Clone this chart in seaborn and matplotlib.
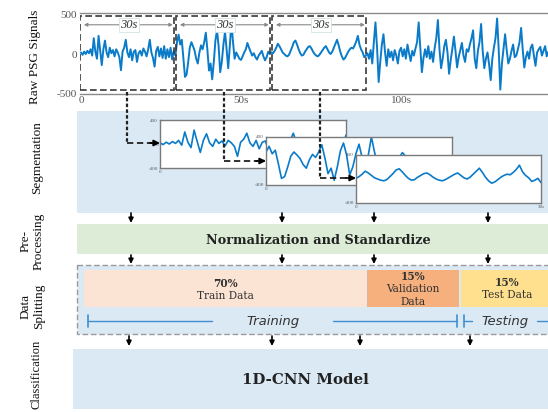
import numpy as np
import pandas as pd
import matplotlib
matplotlib.use('Agg')
import matplotlib.pyplot as plt
import seaborn as sns
from matplotlib.patches import Rectangle

sns.set_theme(style='white')
plt.rcParams['font.family'] = ['Liberation Serif', 'DejaVu Serif']

# ---------------- data ----------------
DT = 0.5  # seconds per sample
seg1_vals = [20, -10, 30, 0, 40, 10, 60, -20, 200, 30, -60, 230, 40, -140, 60, 170,
             20, -40, 80, 10, 50, -30, 60, 20, -40, -205, 30, 80, 180, 20, -40, 60,
             -80, 30, 50, -100, 10, 40, -20, 70, 30, -30, 60, 180, 20, -50, -160, 40,
             90, -30, 70, -50, 100, -60, 60, -40, 80, -70, 40, -20]
seg2_vals = [150, 245, 120, 180, -50, -290, -260, -100, 80, 150, 100, 40, -60, -120, 20, 110,
             60, 150, 270, 50, -210, -120, -320, -100, 170, 300, 100, -230, -100, 120, 280, 60,
             -180, 100, 400, 150, -60, 20, -20, -60, -75, -30, 20, 60, 140, 80, 30, -20,
             10, -40, -70, -20, 10, 40, -30, -80, -40, 30, 0, 20]
seg3_vals = [10, 40, 80, 130, 100, 60, 20, 0, -20, -30, -10, 40, 90, 150, 170, 120,
             60, 10, -20, -10, 30, 60, 90, 100, 70, 30, 0, -20, -30, -10, 20, 50,
             80, 100, 60, 20, 0, 30, 80, 130, 180, 110, 30, -30, -70, -50, -10, 30,
             60, 80, 70, 110, 160, 230, 120, 60, 20, -40, -20, 10]
rest_vals = [-60, 50, -120, 150, 400, 80, -355, -100, 120, 250, 20, -150, 60, -40, 30, -80,
             50, -20, -120, 40, 80, -30, 60, -60, 120, 10, -90, 40, -20, 70, 150, 400,
             80, -230, -50, 60, -40, 100, -60, 30, -100, 80, 200, 430, 60, -180, -60, 100,
             180, 20, -250, -80, 60, 220, 40, -170, -40, 50, 140, -20, -100, 60, 30, 120,
             200, 300, -60, -180, 40, 150, 380, 40, -180, -60, 20, -130, -330, -60, 80, 200,
             450, 60, -450, -120, 60, 250, 50, -120, -60, 40, 120, -40, -20, 60, 150, 330,
             60, -170, -40, 30, -60, 80, 120, -20, -150, 20, 60, 90, -20, 40, 100, -30, 30]

signal = np.array(seg1_vals + seg2_vals + seg3_vals + rest_vals, dtype=float)
time_s = np.arange(len(signal)) * DT
df = pd.DataFrame({'t': time_s, 'v': signal})

segment_starts = [0, 30, 60]
SEG_LEN = 30
segment_label = '30s'
xtick_vals = [0, 50, 100]
xtick_labels = ['0', '50s', '100s']
ytick_vals = [-500, 0, 500]

split_labels = ['70%\nTrain Data', '15%\nValidation\nData', '15%\nTest Data']
stage_labels = ['Raw PSG Signals', 'Segmentation', 'Pre-\nProcessing', 'Data\nSplitting', 'Classification']
preproc_text = 'Normalization and Standardize'
model_text = '1D-CNN Model'

# ---------------- layout ----------------
W, H = 548, 412
SIG_COLOR = '#0a7bc9'
BLUE_BG = '#dbe9f5'
GREEN_BG = '#dcecd6'
PEACH = '#fce4d4'
ORANGE = '#f6b07e'
YELLOW = '#fee08f'

def px_rect(x0, y0, x1, y1):
    return [x0 / W, 1 - y1 / H, (x1 - x0) / W, (y1 - y0) / H]

fig = plt.figure(figsize=(W / 100, H / 100), dpi=100)

bg = fig.add_axes([0, 0, 1, 1], zorder=0)
bg.set_xlim(0, W); bg.set_ylim(H, 0); bg.axis('off')

fg = fig.add_axes([0, 0, 1, 1], zorder=10)
fg.set_xlim(0, W); fg.set_ylim(H, 0); fg.axis('off')
fg.patch.set_visible(False)

# background stage boxes
bg.add_patch(Rectangle((77, 111), 475, 102, fc=BLUE_BG, ec='none'))
bg.add_patch(Rectangle((77, 224), 475, 30, fc=GREEN_BG, ec='none'))
bg.add_patch(Rectangle((77, 265), 475, 69, fc=BLUE_BG, ec='#9a9a9a', lw=1.0, ls=(0, (4, 2))))
bg.add_patch(Rectangle((73, 349), 479, 60, fc=BLUE_BG, ec='none'))

# split boxes
split_boxes = [(84, 366), (367, 459), (461, 552)]
split_colors = [PEACH, ORANGE, YELLOW]
split_text_x = [225, 413, 507]
split_text_y = [289.5, 289.5, 288.5]
for (x0, x1), c, lab, tx, ty in zip(split_boxes, split_colors, split_labels, split_text_x, split_text_y):
    bg.add_patch(Rectangle((x0, 270), x1 - x0, 37, fc=c, ec='none'))
    lines = lab.split('\n')
    n = len(lines)
    step = 12.5
    y0 = ty - (n - 1) * step / 2
    for i, ln in enumerate(lines):
        bg.text(tx, y0 + i * step, ln, ha='center', va='center', fontsize=7.6,
                fontweight='bold' if i == 0 else 'normal', color='#333333',
                family=['DejaVu Serif'])

bg.text(318, 240, preproc_text, ha='center', va='center', fontsize=9.3,
        fontweight='bold', color='#222222', family=['DejaVu Serif'])
bg.text(305, 380, model_text, ha='center', va='center', fontsize=10.8,
        fontweight='bold', color='#222222', family=['DejaVu Serif'])

# stage labels on the left
stage_pos = [(35, 57), (37, 158), (32, 241), (32, 306), (37, 374)]
stage_fs = [9.5, 9.5, 9.5, 9.5, 9.0]
for lab, (x, y), fs in zip(stage_labels, stage_pos, stage_fs):
    bg.text(x, y, lab, rotation=90, ha='center', va='center', fontsize=fs,
            color='#111111', multialignment='center', linespacing=1.15)

# ---------------- raw signal ----------------
ax = fig.add_axes(px_rect(80, 13, 548, 94), zorder=1)
sns.lineplot(data=df, x='t', y='v', ax=ax, color=SIG_COLOR, lw=1.4, estimator=None)
ax.set_xlim(-0.3, 145.9)
ax.set_ylim(-506, 519)
ax.set_xlabel(''); ax.set_ylabel('')
ax.set_xticks(xtick_vals)
ax.set_xticklabels(xtick_labels)
ax.set_yticks(ytick_vals)
ax.set_yticklabels([str(v) for v in ytick_vals])
ax.tick_params(axis='x', direction='in', length=3, width=0.8, color='#555555',
               labelsize=8, labelcolor='#555555', pad=1.5)
ax.tick_params(axis='y', length=0, labelsize=8, labelcolor='#555555', pad=2)
for s in ['left', 'right']:
    ax.spines[s].set_visible(False)
for s in ['top', 'bottom']:
    ax.spines[s].set_color('#8a8a8a')
    ax.spines[s].set_linewidth(1.0)

for st in segment_starts:
    ax.add_patch(Rectangle((st - 0.3, -460), SEG_LEN - 0.6, 940, fill=False,
                           ec='#3a3a3a', lw=1.2, ls=(0, (4, 2)), zorder=5))
    ax.annotate('', xy=(st + SEG_LEN - 1.3, 370), xytext=(st + 0.9, 370),
                arrowprops=dict(arrowstyle='<|-|>', color='#8a8a8a', lw=0.8,
                                mutation_scale=5, shrinkA=0, shrinkB=0), zorder=6)
    ax.text(st + SEG_LEN / 2, 370, segment_label, ha='center', va='center',
            fontsize=9, style='italic', color='#333333', zorder=7,
            bbox=dict(boxstyle='square,pad=0.08', fc='white', ec='#cfe5e2', lw=0.6))

# ---------------- segment panels ----------------
panel_rects = [(160, 120, 346, 168), (266, 137, 452, 185), (356, 155, 541, 203)]
for k, (st, rect) in enumerate(zip(segment_starts, panel_rects)):
    pax = fig.add_axes(px_rect(*rect), zorder=2 + k)
    sub = df[(df.t >= st) & (df.t <= st + SEG_LEN)]
    sns.lineplot(data=sub, x='t', y='v', ax=pax, color=SIG_COLOR, lw=1.2, estimator=None)
    pax.set_xlim(st, st + SEG_LEN)
    pax.set_ylim(-400, 400)
    pax.set_xlabel(''); pax.set_ylabel('')
    pax.set_facecolor('white')
    pax.set_yticks([-400, 0, 400])
    pax.set_yticklabels(['-400', '0', '400'])
    pax.set_xticks([st, st + SEG_LEN])
    pax.set_xticklabels(['0', segment_label if k == len(segment_starts) - 1 else ''])
    pax.tick_params(length=0, labelsize=3.6, labelcolor='#555555', pad=1.5)
    for s in pax.spines.values():
        s.set_color('#7a7a7a'); s.set_linewidth(1.0); s.set_visible(True)

# ---------------- connectors ----------------
connectors = [(127, 92, 143, 160), (224, 92, 161, 266), (320, 92, 178, 356)]
for x, y0, y1, xe in connectors:
    fg.plot([x, x], [y0, y1], color='#222222', lw=1.6, ls=(0, (1.6, 1.0)))
    fg.plot([x, xe - 8], [y1, y1], color='#222222', lw=1.3, ls=(0, (3.5, 2)))
    fg.annotate('', xy=(xe, y1), xytext=(xe - 10, y1),
                arrowprops=dict(arrowstyle='-|>', color='black', lw=1.2,
                                mutation_scale=9, shrinkA=0, shrinkB=0))

# ---------------- down arrows ----------------
arrow_rows = [((213, 223), [131, 282, 374, 488]),
              ((255, 264), [131, 282, 374, 488]),
              ((336, 346), [129, 272, 360, 470])]
for (ya, yb), xs in arrow_rows:
    for x in xs:
        fg.annotate('', xy=(x, yb), xytext=(x, ya),
                    arrowprops=dict(arrowstyle='-|>', color='black', lw=1.2,
                                    mutation_scale=7, shrinkA=0, shrinkB=0))

# ---------------- training / testing ----------------
LINE_C = '#3d8fd1'
ty = 321
for x0, x1 in [(88, 212), (333, 457), (464, 472), (537, 552)]:
    fg.plot([x0, x1], [ty, ty], color=LINE_C, lw=1.0)
for x in [88, 457, 464]:
    fg.plot([x, x], [ty - 6, ty + 6], color=LINE_C, lw=1.2)
fg.text(273, ty, 'Training', ha='center', va='center', fontsize=9.5, style='italic',
        color='#333333', family=['DejaVu Sans'])
fg.text(505, ty, 'Testing', ha='center', va='center', fontsize=9.5, style='italic',
        color='#333333', family=['DejaVu Sans'])

fig.savefig('out.png', dpi=100)
